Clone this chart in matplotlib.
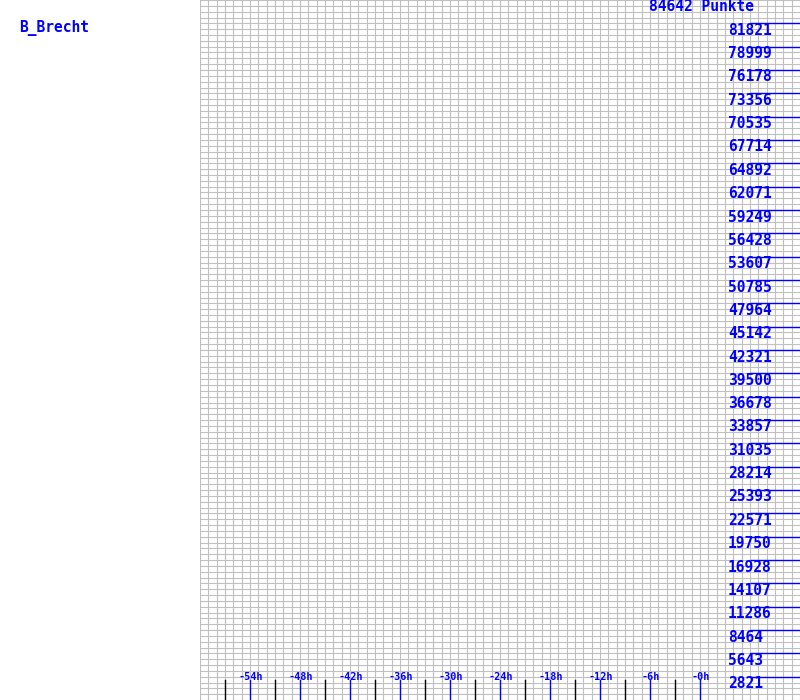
import numpy as np
import matplotlib
matplotlib.use("Agg")
import matplotlib.pyplot as plt
from matplotlib.transforms import blended_transform_factory, offset_copy

player = "B_Brecht"
total_points = 84642
point_labels = [2821, 5643, 8464, 11286, 14107, 16928, 19750, 22571, 25393,
                28214, 31035, 33857, 36678, 39500, 42321, 45142, 47964, 50785,
                53607, 56428, 59249, 62071, 64892, 67714, 70535, 73356, 76178,
                78999, 81821]
major_hours = [-54, -48, -42, -36, -30, -24, -18, -12, -6, 0]
major_hour_labels = ["-54h", "-48h", "-42h", "-36h", "-30h", "-24h",
                     "-18h", "-12h", "-6h", "-0h"]
minor_hours = [-57, -51, -45, -39, -33, -27, -21, -15, -9, -3]

BLUE = "#0000ff"
GRID = "#c0c0c0"
MONO = "DejaVu Sans Mono"

fig = plt.figure(figsize=(8, 7), dpi=100)
fig.patch.set_facecolor("white")
ax = fig.add_axes([0.25, 0.0, 0.75, 1.0])
ax.set_xlim(-60, 12)
ax.set_ylim(0, total_points)

# grid: one column per hour, four rows per label step
ax.set_xticks(np.arange(-60, 13, 1))
ax.set_yticks(np.linspace(0, total_points, 121))
ax.grid(True, color=GRID, linewidth=0.8)
ax.tick_params(length=0, labelbottom=False, labelleft=False)
for s in ax.spines.values():
    s.set_visible(False)
ax.set_axisbelow(True)

# y level lines and labels
for v in point_labels:
    ax.plot([6, 12], [v, v], color=BLUE, linewidth=1.0, solid_capstyle="butt",
            clip_on=False)
    tr = offset_copy(ax.transData, fig=fig, x=0, y=-7 * 0.72, units="points")
    ax.text(3.36, v, str(v), transform=tr, color=BLUE, fontsize=10.5,
            family=MONO, weight="bold", ha="left", va="center")

# total label at top
tr_top = blended_transform_factory(ax.transData, ax.transAxes)
ax.text(-6.12, 1 - 6.5 / 700, f"{total_points} Punkte", transform=tr_top,
        color=BLUE, fontsize=10.5, family=MONO, weight="bold",
        ha="left", va="center")

# hour ticks
trx = blended_transform_factory(ax.transData, ax.transAxes)
for h, lab in zip(major_hours, major_hour_labels):
    ax.plot([h, h], [0, 20 / 700], color=BLUE, linewidth=1.0,
            transform=trx, clip_on=False)
    ax.text(h + 0.12, 23 / 700, lab, transform=trx, color=BLUE,
            fontsize=7.3, family=MONO, weight="bold",
            ha="center", va="center")
for h in minor_hours:
    ax.plot([h, h], [0, 20 / 700], color="black", linewidth=1.0,
            transform=trx, clip_on=False)

# player name
fig.text(19 / 800, 1 - 28 / 700, player, color=BLUE, fontsize=10.5,
         family=MONO, weight="bold", ha="left", va="center")

fig.savefig("out.png", dpi=100, facecolor="white")
